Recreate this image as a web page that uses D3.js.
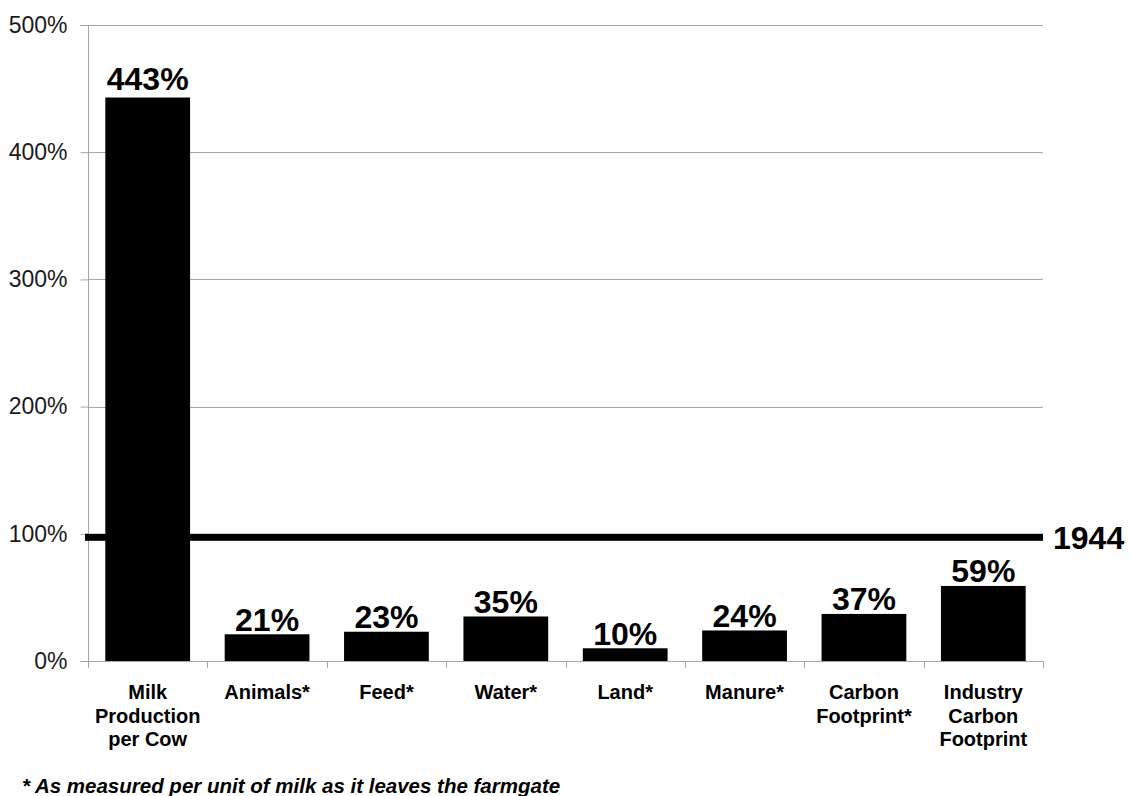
<!DOCTYPE html>
<html><head><meta charset="utf-8">
<script src="https://cdn.jsdelivr.net/npm/d3@7/dist/d3.min.js"></script>
<style>
html,body{margin:0;padding:0;background:#fff;}
svg{display:block;font-family:Arial,"Liberation Sans",sans-serif;}
</style></head>
<body><svg id="chart" width="1130" height="796"></svg>
<script>
const categories = [["Milk","Production","per Cow"],["Animals*"],["Feed*"],["Water*"],["Land*"],["Manure*"],["Carbon","Footprint*"],["Industry","Carbon","Footprint"]];
const values = [443, 21, 23, 35, 10, 24, 37, 59];
const labels = ["443%","21%","23%","35%","10%","24%","37%","59%"];
const yTicks = [0, 100, 200, 300, 400, 500];
const baselineValue = 100;
const baselineLabel = "1944";
const footnote = "* As measured per unit of milk as it leaves the farmgate";

(function(){
const svg = d3.select("#chart");
const pL = 88, pR = 1043, pT = 25, pB = 661;
const x = d3.scaleBand().domain(d3.range(values.length)).range([pL, pR]).paddingInner(0.29).paddingOuter(0.145);
const xb = d3.scaleBand().domain(d3.range(values.length)).range([pL, pR]);
const y = d3.scaleLinear().domain([0, 500]).range([pB, pT]);

// gridlines
svg.append("g").selectAll("line").data(yTicks.filter(d => d > 0)).join("line")
  .attr("x1", pL).attr("x2", pR).attr("y1", d => Math.round(y(d)) + 0.5).attr("y2", d => Math.round(y(d)) + 0.5)
  .attr("stroke", "#a6a6a6").attr("stroke-width", 1);

// y axis
const yAxis = svg.append("g").attr("transform", `translate(${pL + 0.5},0)`)
  .call(d3.axisLeft(y).tickValues(yTicks).tickFormat(d => d + "%").tickSize(8).tickPadding(13));
yAxis.select(".domain").attr("stroke", "#a6a6a6").attr("d", `M0,${pT}V${pB}`);
yAxis.selectAll(".tick line").attr("stroke", "#a6a6a6");
yAxis.selectAll(".tick text").attr("font-size", 23).attr("fill", "#1a1a1a").attr("font-family", "Arial, 'Liberation Sans', sans-serif");

// bars
svg.append("g").selectAll("rect").data(values).join("rect")
  .attr("x", (d, i) => x(i)).attr("width", x.bandwidth())
  .attr("y", d => y(d)).attr("height", d => pB - y(d))
  .attr("fill", "#000");

// x axis line + ticks
svg.append("line").attr("x1", pL).attr("x2", pR).attr("y1", pB + 0.5).attr("y2", pB + 0.5).attr("stroke", "#a6a6a6");
const bounds = d3.range(values.length).map(i => xb(i)).concat([pR]);
svg.append("g").selectAll("line").data(bounds).join("line")
  .attr("x1", d => Math.round(d) + 0.5).attr("x2", d => Math.round(d) + 0.5)
  .attr("y1", pB).attr("y2", pB + 7).attr("stroke", "#a6a6a6");

// baseline 1944
svg.append("rect").attr("x", pL - 3).attr("width", pR - pL + 3)
  .attr("y", y(baselineValue)).attr("height", 7).attr("fill", "#000");
svg.append("text").attr("x", 1053).attr("y", y(baselineValue) + 15)
  .attr("font-size", 32).attr("font-weight", "bold").attr("fill", "#000").text(baselineLabel);

// value labels
svg.append("g").selectAll("text").data(values).join("text")
  .attr("x", (d, i) => x(i) + x.bandwidth() / 2).attr("y", d => y(d) - (d > 200 ? 8 : 3.5))
  .attr("text-anchor", "middle").attr("font-size", 32).attr("font-weight", "bold").attr("fill", "#000")
  .text((d, i) => labels[i]);

// category labels
const cat = svg.append("g").selectAll("text").data(categories).join("text")
  .attr("x", (d, i) => xb(i) + xb.bandwidth() / 2).attr("y", 699)
  .attr("text-anchor", "middle").attr("font-size", 20).attr("font-weight", "bold").attr("fill", "#000");
cat.selectAll("tspan").data(d => d).join("tspan")
  .attr("x", function() { return d3.select(this.parentNode).attr("x"); })
  .attr("dy", (d, i) => i === 0 ? 0 : 23.5).text(d => d);

// footnote
svg.append("text").attr("x", 22).attr("y", 793).attr("font-size", 20.5).attr("font-weight", "bold")
  .attr("font-style", "italic").attr("fill", "#000").text(footnote);
})();
</script></body></html>
